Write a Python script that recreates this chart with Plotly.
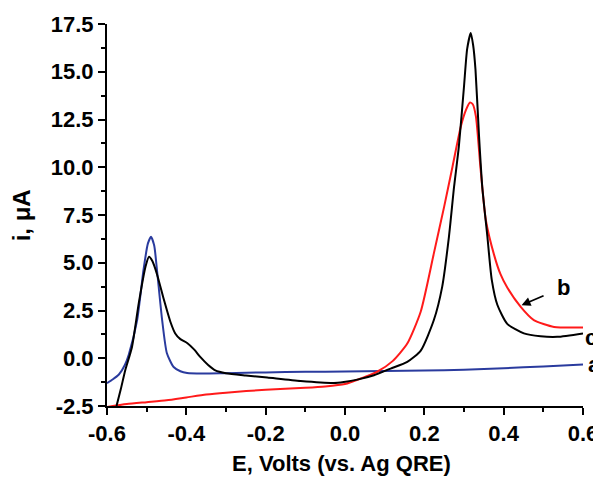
import plotly.graph_objects as go

# Curve a (blue)
a_x = [-0.600, -0.585, -0.570, -0.555, -0.545, -0.524, -0.508, -0.497, -0.489, -0.481, -0.474, -0.461,
       -0.449, -0.432, -0.415, -0.398, -0.360, -0.300, -0.200, -0.100, 0.000, 0.100, 0.200, 0.300,
       0.400, 0.500, 0.600]
a_y = [-1.30, -1.10, -0.85, -0.35, 0.20, 2.00, 4.62, 6.00, 6.36, 5.90, 4.62, 2.00,
       0.26, -0.46, -0.68, -0.77, -0.80, -0.78, -0.74, -0.71, -0.70, -0.67, -0.64, -0.60,
       -0.52, -0.43, -0.33]

# Curve b (red)
b_x = [-0.600, -0.550, -0.500, -0.450, -0.400, -0.350, -0.300, -0.200, -0.100, -0.050, 0.000, 0.040,
       0.080, 0.120, 0.157, 0.191, 0.224, 0.250, 0.271, 0.292, 0.305, 0.315, 0.322, 0.330,
       0.342, 0.355, 0.376, 0.392, 0.409, 0.443, 0.476, 0.527, 0.600]
b_y = [-2.55, -2.40, -2.30, -2.20, -2.05, -1.90, -1.80, -1.65, -1.55, -1.48, -1.35, -1.06,
       -0.72, -0.15, 0.77, 2.45, 5.49, 7.94, 10.03, 12.13, 13.00, 13.39, 13.30, 12.66,
       9.86, 7.24, 5.40, 4.40, 3.70, 2.69, 2.00, 1.64, 1.61]

# Curve c (black)
c_x = [-0.576, -0.565, -0.554, -0.537, -0.520, -0.503, -0.494, -0.486, -0.474, -0.457, -0.440, -0.428,
       -0.415, -0.398, -0.380, -0.365, -0.345, -0.327, -0.300, -0.250, -0.196, -0.112, -0.028, -0.003,
       0.031, 0.073, 0.115, 0.157, 0.191, 0.224, 0.245, 0.262, 0.275, 0.287, 0.300, 0.308,
       0.317, 0.323, 0.329, 0.338, 0.346, 0.359, 0.370, 0.384, 0.409, 0.451, 0.493, 0.535, 0.600]
c_y = [-2.50, -1.60, -0.63, 0.59, 2.87, 4.79, 5.31, 5.10, 4.40, 3.10, 1.90, 1.30,
       1.00, 0.80, 0.45, 0.07, -0.35, -0.63, -0.78, -0.90, -1.01, -1.19, -1.29, -1.24,
       -1.12, -0.89, -0.54, -0.19, 0.40, 2.00, 3.74, 6.36, 8.98, 11.08, 14.23, 16.20,
       17.03, 16.40, 15.10, 11.60, 8.98, 6.36, 4.10, 2.80, 1.80, 1.30, 1.15, 1.12, 1.30]

x_ticks = [-0.6, -0.4, -0.2, 0.0, 0.2, 0.4, 0.6]
x_ticklabels = ["-0.6", "-0.4", "-0.2", "0.0", "0.2", "0.4", "0.6"]
y_ticks = [-2.5, 0.0, 2.5, 5.0, 7.5, 10.0, 12.5, 15.0, 17.5]
y_ticklabels = ["-2.5", "0.0", "2.5", "5.0", "7.5", "10.0", "12.5", "15.0", "17.5"]

FONT = "Liberation Sans, Arial, sans-serif"

fig = go.Figure()
fig.add_trace(go.Scatter(x=a_x, y=a_y, mode="lines", line=dict(color="#2a3b9e", width=2, shape="spline", smoothing=0.6), name="a"))
fig.add_trace(go.Scatter(x=b_x, y=b_y, mode="lines", line=dict(color="#ff1a1a", width=2, shape="spline", smoothing=0.6), name="b"))
fig.add_trace(go.Scatter(x=c_x, y=c_y, mode="lines", line=dict(color="#000000", width=2, shape="spline", smoothing=0.6), name="c"))

axis_common = dict(showline=True, linecolor="black", linewidth=2, ticks="outside", ticklen=7,
                   tickwidth=2, tickcolor="black", showgrid=False, zeroline=False, mirror=False,
                   automargin=False,
                   tickfont=dict(family=FONT, size=22, color="black", weight="bold"))

# page body has an 8px margin, so the figure is sized to end at the window edge
fig.update_layout(
    width=593, height=470,
    margin=dict(l=99, r=18, t=16, b=72, autoexpand=False),
    paper_bgcolor="white", plot_bgcolor="white",
    showlegend=False,
    xaxis=dict(range=[-0.6, 0.6], tickvals=x_ticks, ticktext=x_ticklabels,
               minor=dict(ticks="outside", ticklen=4, tickwidth=2, tickcolor="black", dtick=0.1, tick0=-0.6),
               **axis_common),
    yaxis=dict(range=[-2.5, 17.5], tickvals=y_ticks, ticktext=y_ticklabels,
               minor=dict(ticks="outside", ticklen=4, tickwidth=2, tickcolor="black", dtick=1.25, tick0=-2.5),
               **axis_common),
)

lab_font = dict(family=FONT, size=22, color="black", weight="bold")
fig.add_annotation(text="E, Volts (vs. Ag QRE)", xref="paper", yref="paper", x=0.4926, y=-0.150,
                   showarrow=False, font=lab_font, xanchor="center", yanchor="middle")
fig.add_annotation(text="i, μA", xref="paper", yref="paper", x=-0.180, y=0.5, textangle=-90,
                   showarrow=False, font=dict(family=FONT, size=24, color="black", weight="bold"),
                   xanchor="center", yanchor="middle")

curve_font = dict(family=FONT, size=22, color="black", weight="bold")
# label "b" with its arrow; padding keeps the arrow's tail away from the letter
fig.add_annotation(text="b", x=0.445, y=2.78, ax=0.551, ay=3.72, axref="x", ayref="y",
                   showarrow=True, arrowhead=2, arrowsize=1, arrowwidth=1.8, arrowcolor="black",
                   borderpad=13, font=curve_font)
fig.add_annotation(text="c", xref="paper", yref="paper", x=1.016, y=0.1805, showarrow=False,
                   font=curve_font, xanchor="center", yanchor="middle")
fig.add_annotation(text="a", xref="paper", yref="paper", x=1.024, y=0.109, showarrow=False,
                   font=curve_font, xanchor="center", yanchor="middle")

fig.write_html("out.html")
